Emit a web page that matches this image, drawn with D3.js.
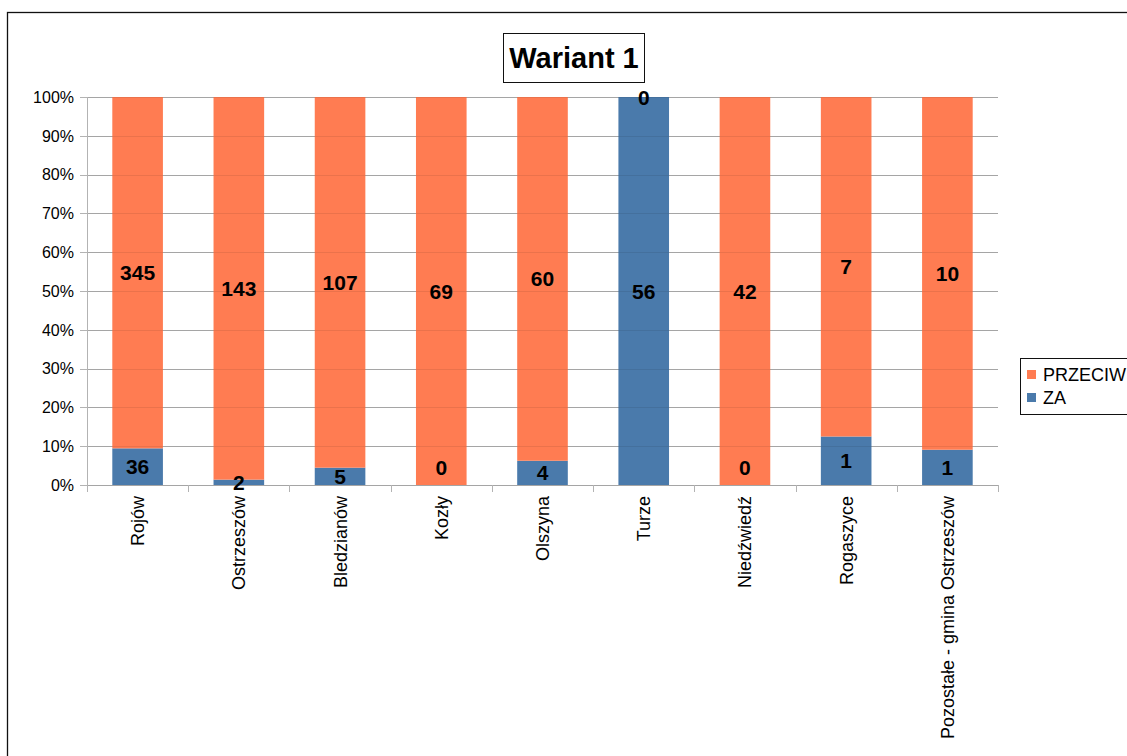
<!DOCTYPE html>
<html>
<head>
<meta charset="utf-8">
<script src="https://cdn.jsdelivr.net/npm/d3@7"></script>
<style>
  body { margin: 0; background: #fff; }
  text { font-family: "Liberation Sans", Arial, sans-serif; }
</style>
</head>
<body>
<div id="chart"></div>
<script>
// values
var places = ["Rojów", "Ostrzeszów", "Bledzianów", "Kozły", "Olszyna", "Turze", "Niedźwiedź", "Rogaszyce", "Pozostałe - gmina Ostrzeszów"];
var za = [36, 2, 5, 0, 4, 56, 0, 1, 1];
var przeciw = [345, 143, 107, 69, 60, 0, 42, 7, 10];
var yTicks = [0, 0.1, 0.2, 0.3, 0.4, 0.5, 0.6, 0.7, 0.8, 0.9, 1];
var seriesNames = ["PRZECIW", "ZA"];
var colors = { ZA: "#4a7aab", PRZECIW: "#ff7c52" };

var W = 1127, H = 756;
var m = { left: 87, right: 129, top: 97, bottom: 271 };

var svg = d3.select("#chart").append("svg")
  .attr("width", W)
  .attr("height", H);

// outer frame (runs off the right and bottom)
svg.append("rect")
  .attr("x", 7.5).attr("y", 12.5)
  .attr("width", W).attr("height", H)
  .attr("fill", "none").attr("stroke", "#111").attr("stroke-width", 1.3);

var x = d3.scaleBand()
  .domain(places)
  .range([m.left, W - m.right])
  .paddingInner(0.5)
  .paddingOuter(0.25);

var y = d3.scaleLinear()
  .domain([0, 1])
  .range([H - m.bottom, m.top]);

var rows = places.map(function(p, i) {
  var t = za[i] + przeciw[i];
  return { place: p, ZA: za[i] / t, PRZECIW: przeciw[i] / t, nZA: za[i], nPRZECIW: przeciw[i] };
});

var stack = d3.stack().keys(["ZA", "PRZECIW"])(rows);

// grid
svg.append("g")
  .selectAll("line")
  .data(yTicks)
  .enter().append("line")
  .attr("x1", m.left - 7).attr("x2", W - m.right)
  .attr("y1", function(d) { return Math.round(y(d)) + 0.5; })
  .attr("y2", function(d) { return Math.round(y(d)) + 0.5; })
  .attr("stroke", "#b3b3b3");

// bars
svg.append("g")
  .selectAll("g")
  .data(stack)
  .enter().append("g")
  .attr("fill", function(s) { return colors[s.key]; })
  .selectAll("rect")
  .data(function(s) { return s; })
  .enter().append("rect")
  .attr("x", function(d) { return x(d.data.place); })
  .attr("width", x.bandwidth())
  .attr("y", function(d) { return y(d[1]); })
  .attr("height", function(d) { return y(d[0]) - y(d[1]); });

// faint grid showing through the bars
svg.append("g")
  .selectAll("line")
  .data(yTicks)
  .enter().append("line")
  .attr("x1", m.left).attr("x2", W - m.right)
  .attr("y1", function(d) { return Math.round(y(d)) + 0.5; })
  .attr("y2", function(d) { return Math.round(y(d)) + 0.5; })
  .attr("stroke", "#000").attr("stroke-opacity", 0.08);

// y axis line
svg.append("line")
  .attr("x1", m.left + 0.5).attr("x2", m.left + 0.5)
  .attr("y1", y(1)).attr("y2", y(0))
  .attr("stroke", "#b3b3b3");

// x ticks between categories
var bounds = d3.range(places.length + 1).map(function(i) {
  return m.left + i * x.step();
});
svg.append("g")
  .selectAll("line")
  .data(bounds)
  .enter().append("line")
  .attr("x1", function(d) { return Math.round(d) + 0.5; })
  .attr("x2", function(d) { return Math.round(d) + 0.5; })
  .attr("y1", y(0)).attr("y2", y(0) + 7)
  .attr("stroke", "#b3b3b3");

// y tick labels
svg.append("g")
  .selectAll("text")
  .data(yTicks)
  .enter().append("text")
  .attr("x", m.left - 13)
  .attr("y", function(d) { return y(d); })
  .attr("dy", "0.36em")
  .attr("text-anchor", "end")
  .attr("font-size", 16)
  .text(d3.format(".0%"));

// x labels, rotated
svg.append("g")
  .selectAll("text")
  .data(places)
  .enter().append("text")
  .attr("transform", function(d) {
    return "translate(" + (x(d) + x.bandwidth() / 2) + "," + (y(0) + 11) + ") rotate(-90)";
  })
  .attr("text-anchor", "end")
  .attr("dy", "0.36em")
  .attr("font-size", 18)
  .text(function(d) { return d; });

// value labels
stack.forEach(function(s) {
  svg.append("g")
    .selectAll("text")
    .data(s)
    .enter().append("text")
    .attr("x", function(d) { return x(d.data.place) + x.bandwidth() / 2; })
    .attr("y", function(d) {
      var c = (y(d[0]) + y(d[1])) / 2;
      if (s.key === "ZA" && d.data.nZA === 0) c = y(0) - 18;
      return c;
    })
    .attr("dy", "0.36em")
    .attr("text-anchor", "middle")
    .attr("font-size", 21)
    .attr("font-weight", "bold")
    .text(function(d) { return d.data["n" + s.key]; });
});

// title
var title = svg.append("g");
title.append("rect")
  .attr("x", 503.5).attr("y", 33.5)
  .attr("width", 141).attr("height", 49)
  .attr("fill", "none").attr("stroke", "#111");
title.append("text")
  .attr("x", 574).attr("y", 58)
  .attr("dy", "0.36em")
  .attr("text-anchor", "middle")
  .attr("font-size", 29)
  .attr("font-weight", "bold")
  .text("Wariant 1");

// legend
var legend = svg.append("g");
legend.append("rect")
  .attr("x", 1020.5).attr("y", 358.5)
  .attr("width", 120).attr("height", 56)
  .attr("fill", "none").attr("stroke", "#111");
seriesNames.forEach(function(k, i) {
  legend.append("rect")
    .attr("x", 1027).attr("y", 370 + i * 23)
    .attr("width", 9).attr("height", 9)
    .attr("fill", colors[k]);
  legend.append("text")
    .attr("x", 1043).attr("y", 375 + i * 23)
    .attr("dy", "0.36em")
    .attr("font-size", 18)
    .text(k);
});
</script>
</body>
</html>
